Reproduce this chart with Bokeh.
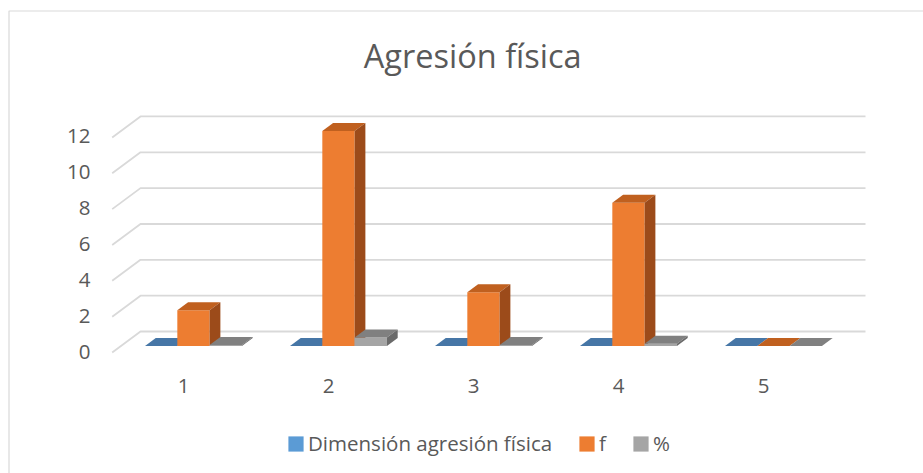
from bokeh.plotting import figure
from bokeh.models import Range1d, Legend, LegendItem
from bokeh.core.properties import value
from bokeh.embed import file_html
from bokeh.resources import INLINE

# ---- data ----
categories = ["1", "2", "3", "4", "5"]
dimension_values = [0, 0, 0, 0, 0]
f_values = [2, 12, 3, 8, 0]
pct_values = [0.05, 0.48, 0.05, 0.12, 0]
y_ticks = [0, 2, 4, 6, 8, 10, 12]
series_names = ["Dimensión agresión física", "f", "%"]
title_text = "Agresión física"

# ---- styles ----
front_colors = ["#5b9bd5", "#ed7d31", "#a5a5a5"]
top_colors = ["#4676a6", "#c0601f", "#808080"]
side_colors = ["#3a6590", "#9c4b1a", "#6a6a6a"]
text_color = "#595959"
grid_color = "#d9d9d9"
FONT = "Open Sans"

# ---- layout (pixels) ----
W, H = 923, 473
X0 = 111.7     # canvas x of front-left floor edge (category axis at 0.5)
SX = 145.0     # px per category
Y0 = 352.0     # canvas y of value 0 on the front plane
SY = 17.92     # px per value unit
DXu = 28.3 / SX   # depth offset (x) in data units
DYu = 21.0 / SY   # depth offset (y) in data units
BAR_W = 0.2228
Z0, Z1 = 0.31, 0.69

x_range = Range1d(0.5 - X0 / SX, 0.5 + (W - X0) / SX)
y_range = Range1d(-(H - Y0) / SY, Y0 / SY)

p = figure(width=W, height=H, x_range=x_range, y_range=y_range,
           output_backend="svg", toolbar_location=None,
           x_axis_location=None, y_axis_location=None,
           min_border=0, outline_line_color=None)
p.xgrid.visible = False
p.ygrid.visible = False
p.background_fill_color = "white"
p.border_fill_color = "white"

# chart border (left & top visible)
xb = x_range.start + 8.5 / SX
yt = y_range.end - 10.5 / SY
p.line([xb, xb, x_range.end], [y_range.start, yt, yt], line_color=grid_color, line_width=1.2)

# 3D gridlines
n_cat = len(categories)
gxs, gys = [], []
for v in y_ticks:
    gxs.append([0.5, 0.5 + DXu, n_cat + 0.5 + DXu])
    gys.append([v, v + DYu, v + DYu])
p.multi_line(gxs, gys, line_color=grid_color, line_width=1.8)


def P(x, v, z):
    return x + z * DXu, v + z * DYu


def poly(pts):
    return [q[0] for q in pts], [q[1] for q in pts]


all_series = [dimension_values, f_values, pct_values]
front_renderers = []
for s, vals in enumerate(all_series):
    fx, fy, tx, ty, sx_, sy_ = [], [], [], [], [], []
    for i, h in enumerate(vals):
        c = i + 1
        x0 = c - 1.5 * BAR_W + s * BAR_W
        x1 = x0 + BAR_W
        a, b = poly([P(x0, 0, Z0), P(x1, 0, Z0), P(x1, h, Z0), P(x0, h, Z0)])
        fx.append(a); fy.append(b)
        a, b = poly([P(x0, h, Z0), P(x1, h, Z0), P(x1, h, Z1), P(x0, h, Z1)])
        tx.append(a); ty.append(b)
        a, b = poly([P(x1, 0, Z0), P(x1, 0, Z1), P(x1, h, Z1), P(x1, h, Z0)])
        sx_.append(a); sy_.append(b)
    fr = p.patches(fx, fy, fill_color=front_colors[s], line_color=None)
    p.patches(tx, ty, fill_color=top_colors[s], line_color=None)
    p.patches(sx_, sy_, fill_color=side_colors[s], line_color=None)
    front_renderers.append(fr)

# y tick labels (front plane)
p.text(x=[0.5] * len(y_ticks), y=y_ticks, text=[str(t) for t in y_ticks],
       x_offset=-21.7, y_offset=-1, text_align="right", text_baseline="middle",
       text_font=value(FONT), text_font_size="20.5px", text_color=text_color)

# category labels
p.text(x=[i + 1 for i in range(n_cat)], y=[0] * n_cat, text=categories,
       x_offset=-1, y_offset=33, text_align="center", text_baseline="middle",
       text_font=value(FONT), text_font_size="20.5px", text_color=text_color)

# title
p.text(x=[3], y=[(Y0 - 55) / SY], text=[title_text], x_offset=-2,
       text_align="center", text_baseline="middle",
       text_font=value(FONT), text_font_size="32.5px", text_color=text_color)

legend = Legend(items=[LegendItem(label=series_names[s], renderers=[front_renderers[s]]) for s in range(3)],
                orientation="horizontal", location=(286, 16),
                glyph_width=19, glyph_height=19, label_standoff=3, spacing=25,
                label_width=1,
                padding=0, margin=0, border_line_color=None, background_fill_alpha=0,
                label_text_font=FONT, label_text_font_size="20.5px",
                label_text_color=text_color)
p.add_layout(legend)

open("out.html", "w").write(file_html(p, INLINE))
